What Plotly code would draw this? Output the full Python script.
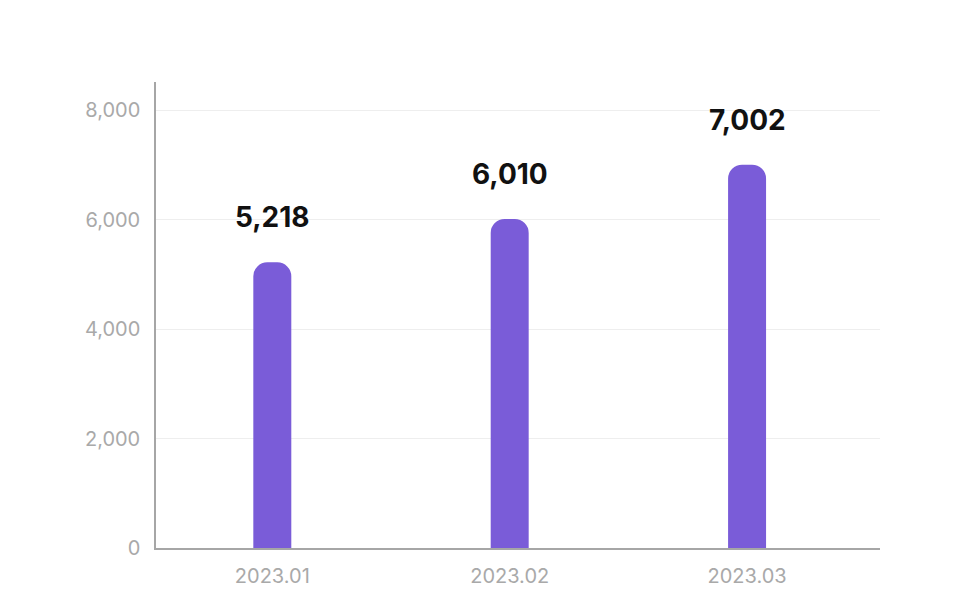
import plotly.graph_objects as go

# dados do gráfico
meses = ["2023.01", "2023.02", "2023.03"]
valores = [5218, 6010, 7002]
rotulos = ["5,218", "6,010", "7,002"]
y_ticks = [0, 2000, 4000, 6000, 8000]

cor_barra = "#7a5cd8"
fonte = "Inter, Roboto, sans-serif"

fig = go.Figure()
fig.add_trace(go.Bar(
    x=meses,
    y=valores,
    marker=dict(color=cor_barra, line=dict(width=0)),
    width=0.16,
    hoverinfo="skip",
))

# rótulos acima das barras (x pelo índice: "2023.01" seria lido como número)
for i, (v, r) in enumerate(zip(valores, rotulos)):
    fig.add_annotation(
        x=i, y=v, xref="x", yref="y",
        text="<b>" + r + "</b>", showarrow=False,
        yanchor="bottom", yshift=26,
        font=dict(family=fonte, size=28, color="#111111"),
    )

# a página tem margem de 8px no body, compensada aqui
fig.update_layout(
    width=959, height=598,
    margin=dict(l=148, r=87, t=74, b=58),
    paper_bgcolor="white",
    plot_bgcolor="white",
    barcornerradius=14,
    showlegend=False,
    xaxis=dict(
        type="category",
        range=[-0.49, 2.56],
        showline=True, linecolor="#a6a6a6", linewidth=1.5,
        showgrid=False, ticks="",
        tickfont=dict(family=fonte, size=20, color="#a9a9a9"),
        ticklabelstandoff=9,
    ),
    yaxis=dict(
        range=[0, 8512],
        tickvals=y_ticks,
        tickformat=",",
        showline=True, linecolor="#a6a6a6", linewidth=1.5,
        showgrid=True, gridcolor="#eeeeee", gridwidth=1,
        zeroline=False, ticks="",
        tickfont=dict(family=fonte, size=20, color="#a9a9a9"),
        ticklabelstandoff=10,
    ),
)

fig.write_html("out.html")
